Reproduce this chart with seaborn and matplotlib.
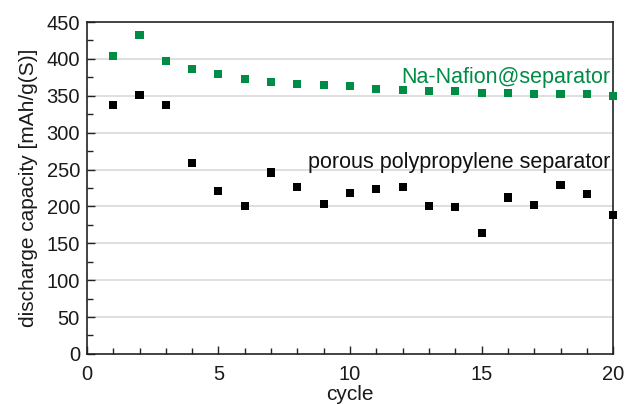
import pandas as pd
import matplotlib
matplotlib.use('Agg')
import matplotlib.pyplot as plt
from matplotlib.ticker import MultipleLocator
import seaborn as sns

# valeurs
cycles = list(range(1, 21))
nafion = [404, 432, 397, 386, 380, 373, 369, 366, 364, 363,
          359, 358, 357, 356, 354, 354, 353, 352, 352, 350]
porous = [338, 351, 337, 259, 221, 200, 246, 226, 203, 218,
          223, 226, 201, 199, 164, 212, 202, 229, 217, 188]

labels = ['Na-Nafion@separator', 'porous polypropylene separator']
colors = ['#008c45', '#000000']

df = pd.DataFrame({
    'cycle': cycles * 2,
    'capacity': nafion + porous,
    'sample': [labels[0]] * len(cycles) + [labels[1]] * len(cycles),
})

sns.set_style('white')
plt.rcParams['font.family'] = ['Liberation Sans', 'DejaVu Sans']

fig = plt.figure(figsize=(6.25, 4.04), dpi=100)
ax = fig.add_axes([0.139, 0.124, 0.842, 0.8215])

for y in range(50, 450, 50):
    ax.axhline(y, color='#d9d9d9', lw=1.2, zorder=0)

sns.scatterplot(data=df, x='cycle', y='capacity', hue='sample',
                palette=dict(zip(labels, colors)), marker='s', s=34,
                linewidth=0, legend=False, ax=ax, zorder=3, clip_on=False)

ax.set_xlim(0, 20)
ax.set_ylim(0, 450)
ax.xaxis.set_major_locator(MultipleLocator(5))
ax.xaxis.set_minor_locator(MultipleLocator(1))
ax.yaxis.set_major_locator(MultipleLocator(50))
ax.yaxis.set_minor_locator(MultipleLocator(25))
ax.tick_params(which='both', direction='in', labelsize=14.5, color='#222222',
               labelcolor='#1a1a1a', width=1, bottom=True, left=True,
               top=False, right=False)
ax.tick_params(which='major', length=6)
ax.tick_params(which='minor', length=4)
ax.tick_params(axis='x', which='major', pad=8)
ax.tick_params(axis='y', which='major', pad=5)
for sp in ax.spines.values():
    sp.set_color('#222222')
    sp.set_linewidth(1.2)

ax.set_xlabel('cycle', fontsize=15, labelpad=1, color='#1a1a1a')
ax.set_ylabel('discharge capacity [mAh/g(S)]', fontsize=15, labelpad=6,
              color='#1a1a1a')

ax.text(19.9, 367, labels[0], color=colors[0], fontsize=15.5, ha='right', va='baseline')
ax.text(19.9, 252, labels[1], color='#111111', fontsize=15.5, ha='right', va='baseline')

fig.savefig('out.png', dpi=100)
